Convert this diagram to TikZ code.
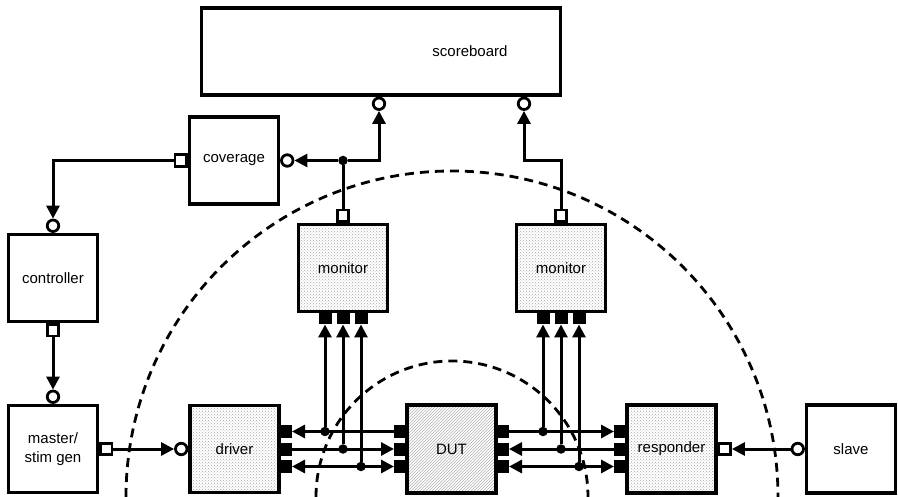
\documentclass[tikz,border=0pt]{standalone}
\usepackage{fontspec}
\setmainfont{Liberation Sans}
\usetikzlibrary{arrows.meta,patterns}

\tikzset{
  blk/.style={draw,line width=3.2pt,minimum width=89pt,minimum height=87pt,inner sep=0pt,
    align=center,font=\fontsize{15}{18.5}\selectfont},
  lbl/.style={inner sep=0pt,font=\fontsize{15}{18.5}\selectfont},
  dotfill/.style={preaction={fill=white},pattern=crosshatch dots,pattern color=black!35},
  hatchfill/.style={preaction={fill=white},pattern=north east lines,pattern color=black!30},
  sqport/.style={draw,fill=white,line width=2.8pt,minimum size=11.5pt,inner sep=0pt},
  cport/.style={circle,draw,fill=white,line width=2.8pt,minimum size=11.5pt,inner sep=0pt},
  bport/.style={fill=black,minimum width=11pt,minimum height=13pt,inner sep=0pt},
  bportv/.style={fill=black,minimum width=13pt,minimum height=11pt,inner sep=0pt},
  jdot/.style={circle,fill=black,minimum size=9.5pt,inner sep=0pt},
  wire/.style={line width=3pt},
  conn/.style={wire,-{Triangle[length=13pt,width=13pt]}},
  both/.style={wire,{Triangle[length=13pt,width=13pt]}-{Triangle[length=13pt,width=13pt]}},
  envline/.style={line width=2.8pt,dash pattern=on 9pt off 6pt}
}

\begin{document}
\begin{tikzpicture}[x=1pt,y=-1pt]
\useasboundingbox (0,0) rectangle (898,497);

% environment boundaries
\draw[envline] (126,497) arc[start angle=180,end angle=0,radius=326pt];
\draw[envline] (316,497) arc[start angle=180,end angle=0,radius=136pt];

% blocks
\node[blk,minimum width=359pt] (sb) at (381,51.5) {};
\node[lbl] (sblbl) at ([xshift=89pt]sb.center) {scoreboard};
\node[blk] (cov) at (234,160.5) {coverage};
\node[blk] (ctl) at (53,278) {controller};
\node[blk] (mst) at (53,449) {master/\\stim gen};
\node[blk,dotfill] (drv) at (234.5,449) {driver};
\node[blk,hatchfill,minimum height=88pt] (dut) at (451.5,449) {DUT};
\node[blk,dotfill,minimum height=88pt] (rsp) at (671.5,449) {responder};
\node[blk,minimum height=88pt] (slv) at (851,449) {slave};
\node[blk,dotfill] (mona) at (343,268) {monitor};
\node[blk,dotfill] (monb) at (561,268) {monitor};

% ports
\node[cport,anchor=north] (sbca) at ([xshift=-2pt]sb.south) {};
\node[cport,anchor=north] (sbcb) at ([xshift=143pt]sb.south) {};
\node[sqport,anchor=east] (covsq) at (cov.west) {};
\node[cport,anchor=west] (covc) at (cov.east) {};
\node[cport,anchor=south] (ctlc) at (ctl.north) {};
\node[sqport,anchor=north] (ctlsq) at (ctl.south) {};
\node[cport,anchor=south] (mstc) at (mst.north) {};
\node[sqport,anchor=west] (mstsq) at (mst.east) {};
\node[cport,anchor=east] (drvc) at (drv.west) {};
\node[sqport,anchor=west] (rspsq) at (rsp.east) {};
\node[cport,anchor=east] (slvc) at (slv.west) {};
\node[sqport,anchor=south] (monasq) at (mona.north) {};
\node[sqport,anchor=south] (monbsq) at (monb.north) {};

\node[bportv,anchor=north] (mona1) at ([xshift=-18pt]mona.south) {};
\node[bportv,anchor=north] (mona2) at (mona.south) {};
\node[bportv,anchor=north] (mona3) at ([xshift=18pt]mona.south) {};
\node[bportv,anchor=north] (monb1) at ([xshift=-18pt]monb.south) {};
\node[bportv,anchor=north] (monb2) at (monb.south) {};
\node[bportv,anchor=north] (monb3) at ([xshift=18pt]monb.south) {};

\node[bport,anchor=west] (drv1) at ([yshift=17.5pt]drv.east) {};
\node[bport,anchor=west] (drv2) at (drv.east) {};
\node[bport,anchor=west] (drv3) at ([yshift=-17.5pt]drv.east) {};
\node[bport,anchor=east] (dutl1) at ([yshift=17.5pt]dut.west) {};
\node[bport,anchor=east] (dutl2) at (dut.west) {};
\node[bport,anchor=east] (dutl3) at ([yshift=-17.5pt]dut.west) {};
\node[bport,anchor=west] (dutr1) at ([yshift=17.5pt]dut.east) {};
\node[bport,anchor=west] (dutr2) at (dut.east) {};
\node[bport,anchor=west] (dutr3) at ([yshift=-17.5pt]dut.east) {};
\node[bport,anchor=east] (rsp1) at ([yshift=17.5pt]rsp.west) {};
\node[bport,anchor=east] (rsp2) at (rsp.west) {};
\node[bport,anchor=east] (rsp3) at ([yshift=-17.5pt]rsp.west) {};

% junctions
\node[jdot] (ja) at (monasq |- covsq) {};
\node[jdot] (ja1) at (mona1 |- drv1) {};
\node[jdot] (ja2) at (mona2 |- drv2) {};
\node[jdot] (ja3) at (mona3 |- drv3) {};
\node[jdot] (jb1) at (monb1 |- drv1) {};
\node[jdot] (jb2) at (monb2 |- drv2) {};
\node[jdot] (jb3) at (monb3 |- drv3) {};

% stimulus path
\draw[conn] (covsq.west) -| (ctlc.north);
\draw[conn] (ctlsq.south) -- (mstc.north);
\draw[conn] (mstsq.east) -- (drvc.west);
\draw[conn] (slvc.west) -- (rspsq.east);

% analysis path
\draw[wire] (monasq.north) -- (ja);
\draw[conn] (ja) -- (covc.east);
\draw[conn] (ja) -| (sbca.south);
\draw[conn] (monbsq.north) |- (sbcb.south |- covsq) -- (sbcb.south);

% pin buses
\draw[conn] (dutl1.west) -- (drv1.east);
\draw[conn] (drv2.east) -- (dutl2.west);
\draw[both] (drv3.east) -- (dutl3.west);
\draw[conn] (dutr1.east) -- (rsp1.west);
\draw[conn] (rsp2.west) -- (dutr2.east);
\draw[both] (dutr3.east) -- (rsp3.west);

% monitor taps
\draw[conn] (ja1) -- (mona1.south);
\draw[conn] (ja2) -- (mona2.south);
\draw[conn] (ja3) -- (mona3.south);
\draw[conn] (jb1) -- (monb1.south);
\draw[conn] (jb2) -- (monb2.south);
\draw[conn] (jb3) -- (monb3.south);
\end{tikzpicture}
\end{document}
